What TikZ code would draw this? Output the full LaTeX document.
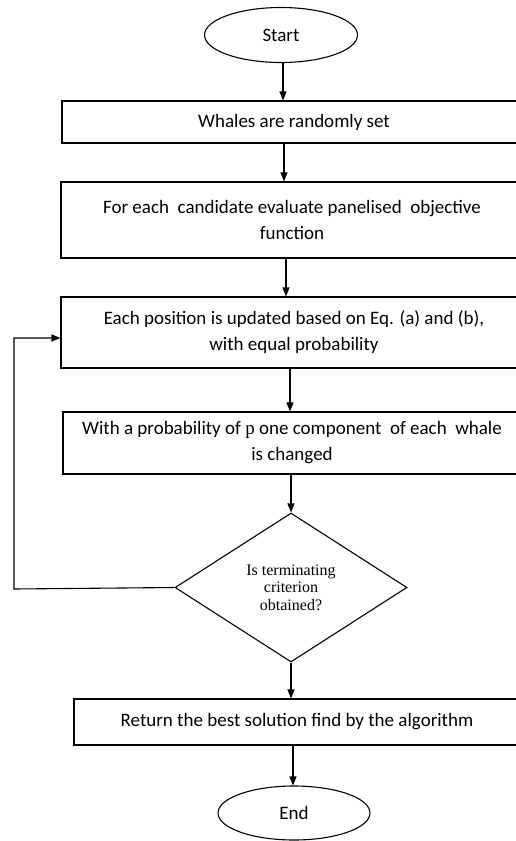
\documentclass[tikz,border=0pt]{standalone}
\usepackage{fontspec}
\setmainfont{Carlito}
\newfontfamily\serifp{Liberation Serif}
\usetikzlibrary{shapes.geometric,arrows.meta}
\tikzset{
  line/.style={line width=1.1pt, draw=black},
  arr/.style={line, -{Triangle[length=9pt,width=7pt]}},
  term/.style={ellipse, line, inner sep=0pt, font=\fontsize{19}{26}\selectfont},
  proc/.style={rectangle, line, inner sep=0pt, align=center, font=\fontsize{19}{26}\selectfont},
  dec/.style={diamond, line, inner sep=0pt, align=center, font=\serifp\fontsize{16}{17.5}\selectfont},
}
\begin{document}
\begin{tikzpicture}[x=1pt,y=1pt]
\fill[white] (0,0) rectangle (516,-841);
\useasboundingbox (0,0) rectangle (516,-841);
\node[term, minimum width=153pt, minimum height=55pt] (start) at (281,-35) {Start};
\node[proc, minimum width=464pt, minimum height=42pt] (b1) at (294,-122) {Whales are randomly set};
\node[proc, minimum width=462pt, minimum height=76pt] (b2) at (292,-220) {For each\ \ candidate evaluate panelised\ \ objective\\function};
\node[proc, minimum width=466pt, minimum height=71pt] (b3) at (294,-332.5) {Each position is updated based on Eq. (a) and (b),\\with equal probability};
\node[proc, minimum width=458pt, minimum height=62pt] (b4) at (292,-443) {With a probability of {\serifp p} one component\ \ of each\ \ whale\\is changed};
\node[dec, minimum width=232pt, minimum height=149pt] (d) at (291,-587.5) {Is terminating\\criterion\\obtained?};
\node[proc, minimum width=446pt, minimum height=46pt] (b5) at (297,-722) {Return the best solution find by the algorithm};
\node[term, minimum width=152pt, minimum height=54pt] (end) at (294,-813) {End};
\coordinate (lp) at (14,-589);
\draw[arr] ([xshift=2pt]start.south) -- ([xshift=2pt]start.south |- b1.north);
\draw[arr] ([xshift=-10pt]b1.south) -- ([xshift=-10pt]b1.south |- b2.north);
\draw[arr] ([xshift=-6pt]b2.south) -- ([xshift=-6pt]b2.south |- b3.north);
\draw[arr] ([xshift=-4pt]b3.south) -- ([xshift=-4pt]b3.south |- b4.north);
\draw[arr] (b4.south -| d.north) -- (d.north);
\draw[arr] (d.south) -- (d.south |- b5.north);
\draw[arr] ([xshift=-4pt]b5.south) -- ([xshift=-4pt]b5.south |- end.north);
\draw[arr] (d.west) -- (lp) |- ([yshift=-5.5pt]b3.west);
\end{tikzpicture}
\end{document}
